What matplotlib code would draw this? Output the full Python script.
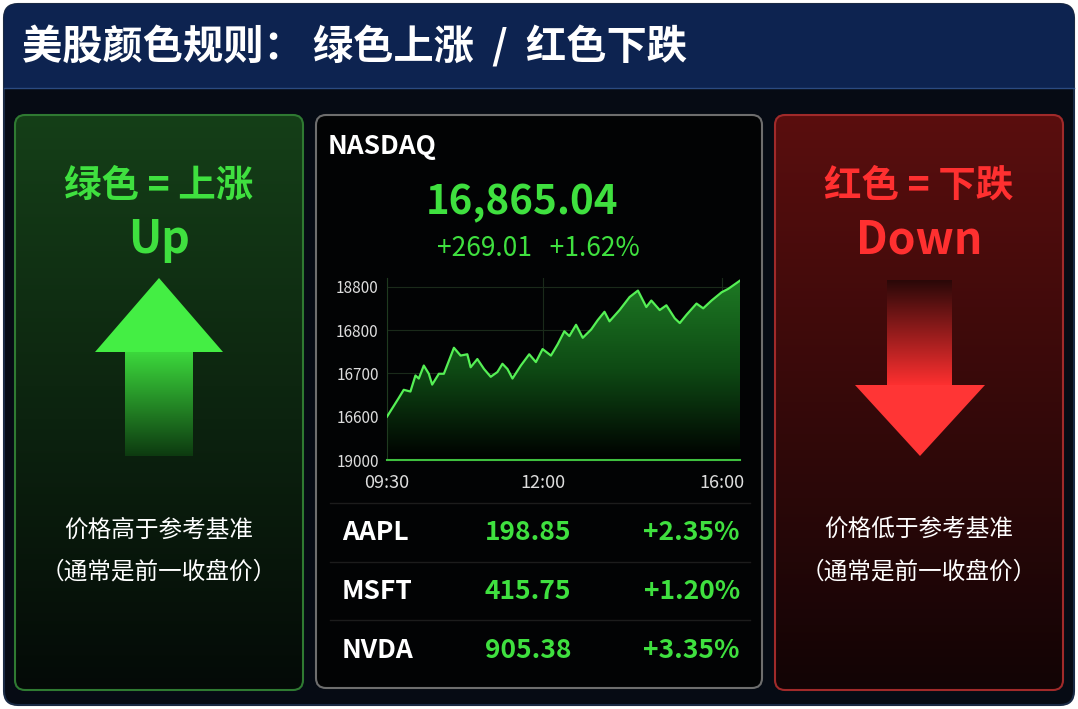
import numpy as np
import matplotlib
matplotlib.use("Agg")
import matplotlib.pyplot as plt
from matplotlib.patches import FancyBboxPatch, Polygon, Rectangle, PathPatch
from matplotlib.colors import LinearSegmentedColormap

plt.rcParams['font.family'] = ['Noto Sans CJK SC', 'DejaVu Sans']

title = "美股颜色规则： 绿色上涨  /  红色下跌"
index_name = "NASDAQ"
index_value = "16,865.04"
index_change = "+269.01   +1.62%"
chart_x = [0, 35, 50, 70, 85, 95, 110, 125, 135, 155, 170, 200, 220, 240, 250, 270, 290, 310, 330,
           345, 360, 375, 400, 425, 445, 465, 490, 510, 530, 545, 565, 585, 610, 630, 650, 665, 695,
           725, 750, 775, 790, 815, 835, 860, 875, 895, 925, 945, 970, 1000, 1020, 1055]
chart_y = [16600, 16643, 16662, 16658, 16695, 16688, 16718, 16699, 16674, 16699, 16699, 16759, 16741,
           16744, 16714, 16733, 16710, 16692, 16703, 16722, 16710, 16688, 16718, 16744, 16726, 16756,
           16741, 16767, 16797, 16786, 16812, 16782, 16801, 16823, 16842, 16820, 16846, 16876, 16891,
           16853, 16868, 16846, 16857, 16827, 16816, 16835, 16861, 16850, 16868, 16887, 16895, 16914]
xtick_pos = [0, 465, 1000]
xtick_labels = ["09:30", "12:00", "16:00"]
ytick_vals = [16500, 16600, 16700, 16800, 16900]
ytick_labels = ["19000", "16600", "16700", "16800", "18800"]
symbols = ["AAPL", "MSFT", "NVDA"]
prices = ["198.85", "415.75", "905.38"]
pcts = ["+2.35%", "+1.20%", "+3.35%"]

W, H = 1078, 709
fig = plt.figure(figsize=(W/100, H/100), dpi=100)
fig.patch.set_facecolor('white')
ax = fig.add_axes([0, 0, 1, 1])
ax.set_xlim(0, W); ax.set_ylim(H, 0); ax.axis('off')

ax.add_patch(FancyBboxPatch((4, 4), W-8, H-8, boxstyle="round,pad=0,rounding_size=14",
                            fc='#060b14', ec='#1a2a44', lw=1.5))
ax.add_patch(FancyBboxPatch((4, 4), W-8, 84, boxstyle="round,pad=0,rounding_size=14",
                            fc='#0d2350', ec='none'))
ax.add_patch(Rectangle((4, 60), W-8, 28, fc='#0d2350', ec='none'))
ax.plot([4, W-4], [88, 88], color='#2b4a80', lw=1)
ax.text(22, 47, title, color='white', fontsize=29, fontweight='bold', va='center', ha='left')

def vgrad(x0, x1, y0, y1, c_top, c_bot, z=1):
    cmap = LinearSegmentedColormap.from_list('g', [c_top, c_bot])
    g = np.linspace(0, 1, 256).reshape(-1, 1)
    return ax.imshow(g, cmap=cmap, extent=(x0, x1, y1, y0), aspect='auto', zorder=z)

im = vgrad(15, 303, 115, 690, '#153f18', '#040a07')
p = FancyBboxPatch((15, 115), 288, 575, boxstyle="round,pad=0,rounding_size=10",
                   fc='none', ec='#2f7a32', lw=1.5, zorder=3)
ax.add_patch(p); im.set_clip_path(p)
im = vgrad(775, 1063, 115, 690, '#5a0e0e', '#120405')
p = FancyBboxPatch((775, 115), 288, 575, boxstyle="round,pad=0,rounding_size=10",
                   fc='none', ec='#a02a2a', lw=1.5, zorder=3)
ax.add_patch(p); im.set_clip_path(p)
ax.add_patch(FancyBboxPatch((316, 115), 446, 573, boxstyle="round,pad=0,rounding_size=10",
                            fc='#020304', ec='#6e6e6e', lw=1.5, zorder=2))

G = '#3fe03f'; R = '#ff3030'
ax.text(159, 185, "绿色 = 上涨", color=G, fontsize=27, fontweight='bold', ha='center', va='center', zorder=4)
ax.text(159, 240, "Up", color=G, fontsize=32, fontweight='bold', ha='center', va='center', zorder=4)
ax.text(919, 185, "红色 = 下跌", color=R, fontsize=27, fontweight='bold', ha='center', va='center', zorder=4)
ax.text(919, 240, "Down", color=R, fontsize=32, fontweight='bold', ha='center', va='center', zorder=4)
for cx, l1 in [(159, "价格高于参考基准"), (919, "价格低于参考基准")]:
    ax.text(cx, 530, l1, color='white', fontsize=17, ha='center', va='center', zorder=4)
    ax.text(cx, 572, "（通常是前一收盘价）", color='white', fontsize=17, ha='center', va='center', zorder=4)

ax.add_patch(Polygon([(95, 352), (223, 352), (159, 278)], fc='#44ee44', ec='none', zorder=4))
im = vgrad(125, 193, 352, 456, '#3cd83c', '#0d3a10', z=4)
im.set_clip_path(Rectangle((125, 352), 68, 104, transform=ax.transData))
im = vgrad(887, 952, 280, 386, '#2a0808', '#ff3030', z=4)
im.set_clip_path(Rectangle((887, 280), 65, 106, transform=ax.transData))
ax.add_patch(Polygon([(855, 385), (985, 385), (920, 456)], fc='#ff3535', ec='none', zorder=4))

ax.text(328, 147, index_name, color='white', fontsize=19, fontweight='bold', ha='left', va='center', zorder=4)
ax.text(522, 203, index_value, color=G, fontsize=29, fontweight='bold', ha='center', va='center', zorder=4)
ax.text(538, 248, index_change, color=G, fontsize=19, fontweight='medium', ha='center', va='center', zorder=4)
for i, (s, pr, pc) in enumerate(zip(symbols, prices, pcts)):
    y = 533 + i*58.5
    ax.text(342, y, s, color='white', fontsize=19, fontweight='bold', ha='left', va='center', zorder=4)
    ax.text(528, y, pr, color=G, fontsize=19, fontweight='bold', ha='center', va='center', zorder=4)
    ax.text(740, y, pc, color=G, fontsize=19, fontweight='bold', ha='right', va='center', zorder=4)
for y in [503, 562, 620]:
    ax.plot([330, 750], [y, y], color='#1c1c1c', lw=1, zorder=3)

cax = fig.add_axes([387/W, 1-460/H, (740-387)/W, (460-278)/H])
cax.set_facecolor('none')
cax.set_xlim(0, 1055); cax.set_ylim(16500, 16920)
cax.plot(chart_x, chart_y, color='#55f055', lw=1.6, zorder=3)
poly = cax.fill_between(chart_x, chart_y, 16500, color='none')
cmap = LinearSegmentedColormap.from_list('f', ['#000000', '#0e4a14', '#1e7a24'])
g = np.linspace(0, 1, 256).reshape(-1, 1)
img = cax.imshow(g, cmap=cmap, extent=(0, 1055, 16500, 16920), aspect='auto', origin='lower', zorder=2)
pp = PathPatch(poly.get_paths()[0], transform=cax.transData, fc='none', ec='none')
cax.add_patch(pp); img.set_clip_path(pp)
cax.set_yticks(ytick_vals); cax.set_yticklabels(ytick_labels)
cax.set_xticks(xtick_pos); cax.set_xticklabels(xtick_labels)
cax.tick_params(axis='y', colors='#dddddd', labelsize=11, length=0, pad=6)
cax.tick_params(axis='x', colors='#dddddd', labelsize=13, length=0, pad=10)
cax.grid(True, color='#1a2a1a', lw=0.8)
for s in ['top', 'right']:
    cax.spines[s].set_visible(False)
cax.spines['left'].set_color('#1f3a1f')
cax.spines['bottom'].set_color('#3fbf3f'); cax.spines['bottom'].set_linewidth(1.5)

fig.savefig('out.png', dpi=100, facecolor=fig.get_facecolor())
